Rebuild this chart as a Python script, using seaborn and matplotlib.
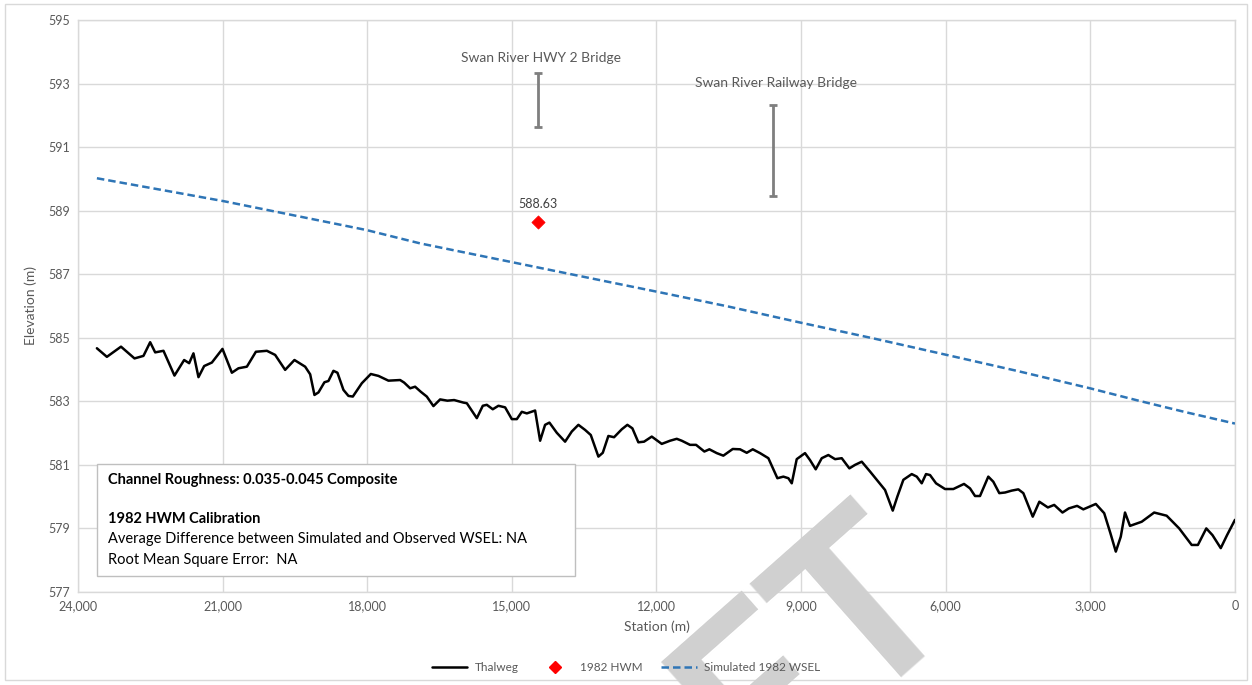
import numpy as np
import pandas as pd
import seaborn as sns
import matplotlib.pyplot as plt
from matplotlib.lines import Line2D
from matplotlib.patches import Rectangle
from matplotlib.ticker import FuncFormatter, MultipleLocator, FixedLocator

# thalweg profile (station m, elevation m)
thalweg_station = [
    23608, 23401, 23108, 22828, 22642, 22503, 22399, 22227, 21999, 21798,
    21694, 21605, 21501, 21383, 21223, 21003, 20808, 20671, 20497, 20310,
    20082, 19910, 19703, 19510, 19288, 19184, 19095, 19012, 18888, 18805,
    18701, 18618, 18494, 18390, 18299, 18112, 17926, 17768, 17560, 17318,
    17235, 17110, 17007, 16889, 16765, 16627, 16488, 16337, 16198, 16005,
    15934, 15727, 15603, 15520, 15396, 15279, 15140, 15001, 14897, 14794,
    14690, 14518, 14414, 14311, 14221, 14068, 13896, 13757, 13620, 13481,
    13363, 13205, 13114, 12998, 12880, 12720, 12604, 12500, 12376, 12258,
    12098, 11891, 11718, 11580, 11476, 11304, 11179, 11007, 10903, 10750,
    10613, 10418, 10267, 10128, 10003, 9852, 9679, 9492, 9368, 9264,
    9194, 9091, 8919, 8815, 8697, 8572, 8435, 8296, 8157, 7999,
    7881, 7742, 7570, 7398, 7259, 7099, 7004, 6879, 6705, 6601,
    6498, 6409, 6326, 6201, 6015, 5842, 5621, 5496, 5392, 5289,
    5117, 5013, 4889, 4770, 4631, 4494, 4390, 4195, 4058, 3881,
    3750, 3578, 3447, 3275, 3146, 2887, 2713, 2584, 2472, 2369,
    2281, 2178, 1935, 1676, 1417, 1157, 898, 769, 595, 467,
    295, 164, 0,
]
thalweg_elev = [
    584.67, 584.40, 584.72, 584.35, 584.43, 584.86, 584.54, 584.59, 583.81, 584.30,
    584.20, 584.51, 583.76, 584.11, 584.22, 584.65, 583.90, 584.04, 584.09, 584.56,
    584.59, 584.46, 583.99, 584.30, 584.09, 583.85, 583.20, 583.28, 583.60, 583.64,
    583.96, 583.90, 583.36, 583.17, 583.15, 583.57, 583.86, 583.80, 583.65, 583.67,
    583.59, 583.41, 583.46, 583.30, 583.15, 582.85, 583.06, 583.02, 583.04, 582.96,
    582.94, 582.47, 582.86, 582.89, 582.75, 582.86, 582.81, 582.44, 582.44, 582.67,
    582.62, 582.71, 581.76, 582.26, 582.33, 582.01, 581.73, 582.05, 582.26, 582.10,
    581.94, 581.26, 581.38, 581.91, 581.87, 582.12, 582.26, 582.15, 581.71, 581.73,
    581.89, 581.66, 581.76, 581.82, 581.76, 581.63, 581.63, 581.42, 581.49, 581.37,
    581.29, 581.50, 581.49, 581.38, 581.49, 581.37, 581.21, 580.58, 580.63, 580.58,
    580.42, 581.18, 581.37, 581.15, 580.86, 581.21, 581.31, 581.18, 581.21, 580.89,
    581.00, 581.10, 580.79, 580.47, 580.21, 579.56, 580.00, 580.53, 580.71, 580.63,
    580.42, 580.71, 580.68, 580.42, 580.24, 580.24, 580.40, 580.26, 580.02, 580.02,
    580.63, 580.47, 580.11, 580.13, 580.19, 580.23, 580.11, 579.37, 579.84, 579.66,
    579.74, 579.50, 579.63, 579.71, 579.60, 579.77, 579.48, 578.85, 578.27, 578.74,
    579.50, 579.08, 579.21, 579.50, 579.40, 579.00, 578.48, 578.48, 579.00, 578.79,
    578.38, 578.79, 579.27,
]

# simulated 1982 water surface
wsel_station = [23608, 22000, 20982, 18015, 16903, 15000, 14000, 13000, 11994,
                10500, 9022, 7500, 5979, 4500, 3007, 2000, 1000, 0]
wsel_elev = [590.02, 589.58, 589.30, 588.39, 587.97, 587.38, 587.07, 586.76, 586.45,
             585.98, 585.48, 584.98, 584.46, 583.95, 583.41, 583.02, 582.65, 582.30]

# observed high water mark
hwm_station = [14450]
hwm_elev = [588.63]

# bridges (low chord / high chord)
bridge_names = ["Swan River HWY 2 Bridge", "Swan River Railway Bridge"]
bridge_station = [14450, 9575]
bridge_low = [591.64, 589.46]
bridge_high = [593.34, 592.33]

y_ticks = [577, 579, 581, 583, 585, 587, 589, 591, 593, 595]

GREY_TXT = "#595959"
GRID = "#d9d9d9"

sns.set_theme(style="whitegrid")
plt.rcParams["font.family"] = ["Lato", "DejaVu Sans"]

fig = plt.figure(figsize=(12.52, 6.85), dpi=100)
ax = fig.add_axes([0.0623, 0.1358, 0.9241, 0.835])

thalweg = pd.DataFrame({"station": thalweg_station, "elev": thalweg_elev})
wsel = pd.DataFrame({"station": wsel_station, "elev": wsel_elev})

sns.lineplot(data=thalweg, x="station", y="elev", sort=False, estimator=None,
             color="black", linewidth=1.8, ax=ax, zorder=3)
sns.lineplot(data=wsel, x="station", y="elev", sort=False, estimator=None,
             color="#2e75b6", linewidth=1.8, ax=ax, zorder=3)
ax.lines[-1].set_linestyle((0, (3, 1.6)))
sns.scatterplot(x=hwm_station, y=hwm_elev, marker="D", s=45, color="#ff0000",
                edgecolor="#ff0000", ax=ax, zorder=4)
ax.annotate(f"{hwm_elev[0]:.2f}", (hwm_station[0], hwm_elev[0]), xytext=(0, 9),
            textcoords="offset points", ha="center", va="bottom",
            fontsize=9, color="#404040")

# bridge deck ranges
for name, st, lo, hi, off in zip(bridge_names, bridge_station, bridge_low,
                                 bridge_high, [10.5, 15.5]):
    mid = (lo + hi) / 2
    ax.errorbar([st], [mid], yerr=[[mid - lo], [hi - mid]], fmt="none",
                ecolor="#7f7f7f", elinewidth=2, capsize=3, capthick=2, zorder=3)
    ax.annotate(name, (st, hi), xytext=(2, off), textcoords="offset points",
                ha="center", va="center", fontsize=10, color=GREY_TXT)

ax.set_xlim(24000, 0)
ax.set_ylim(577, 595)
ax.xaxis.set_major_locator(MultipleLocator(3000))
ax.yaxis.set_major_locator(FixedLocator(y_ticks))
ax.xaxis.set_major_formatter(FuncFormatter(lambda v, p: f"{int(v):,}"))
ax.grid(True, color=GRID, linewidth=1)
for sp in ax.spines.values():
    sp.set_color(GRID)
    sp.set_linewidth(1)
ax.tick_params(axis="both", labelsize=9, colors=GREY_TXT, length=0, pad=6)
ax.set_xlabel("Station (m)", fontsize=10, color=GREY_TXT, labelpad=6)
ax.set_ylabel("Elevation (m)", fontsize=10, color=GREY_TXT, labelpad=8)

handles = [
    Line2D([], [], color="black", linewidth=1.8),
    Line2D([], [], color="#ff0000", marker="D", markersize=6, linestyle="none"),
    Line2D([], [], color="#2e75b6", linewidth=1.8, linestyle=(0, (3, 1.6))),
]
leg = fig.legend(handles, ["Thalweg", "1982 HWM", "Simulated 1982 WSEL"],
                 loc="center", bbox_to_anchor=(0.50, 0.025), ncol=3, frameon=False,
                 fontsize=8.5, labelcolor=GREY_TXT, handlelength=3.0,
                 handletextpad=0.6, columnspacing=1.6)
leg.set_zorder(12)

# calibration note
fig.patches.append(Rectangle((0.0775, 0.159), 0.3818, 0.1636, transform=fig.transFigure,
                             facecolor="white", edgecolor="#bfbfbf", linewidth=1,
                             zorder=5))
note_x = 0.0863
fig.text(note_x, 0.2993, "Channel Roughness: 0.035-0.045 Composite", fontsize=10.5,
         fontweight="bold", color="black", va="center", zorder=6)
fig.text(note_x, 0.2423, "1982 HWM Calibration", fontsize=10.5, fontweight="bold",
         color="black", va="center", zorder=6)
fig.text(note_x, 0.2131, "Average Difference between Simulated and Observed WSEL: NA",
         fontsize=10.5, color="black", va="center", zorder=6)
fig.text(note_x, 0.1825, "Root Mean Square Error:  NA", fontsize=10.5, color="black",
         va="center", zorder=6)

# outer chart border
fig.patches.append(Rectangle((0.004, 0.007), 0.992, 0.987, transform=fig.transFigure,
                             facecolor="none", edgecolor="#d9d9d9", linewidth=1))

# watermark
fig.text(0.6757, 0.3051, "DRAFT", fontsize=170, fontweight="bold", color="#d0d0d0",
         family=["Liberation Sans Narrow", "Lato"],
         rotation=41.5, rotation_mode="anchor", ha="right", va="top", zorder=10)

fig.savefig("out.png", dpi=100)
